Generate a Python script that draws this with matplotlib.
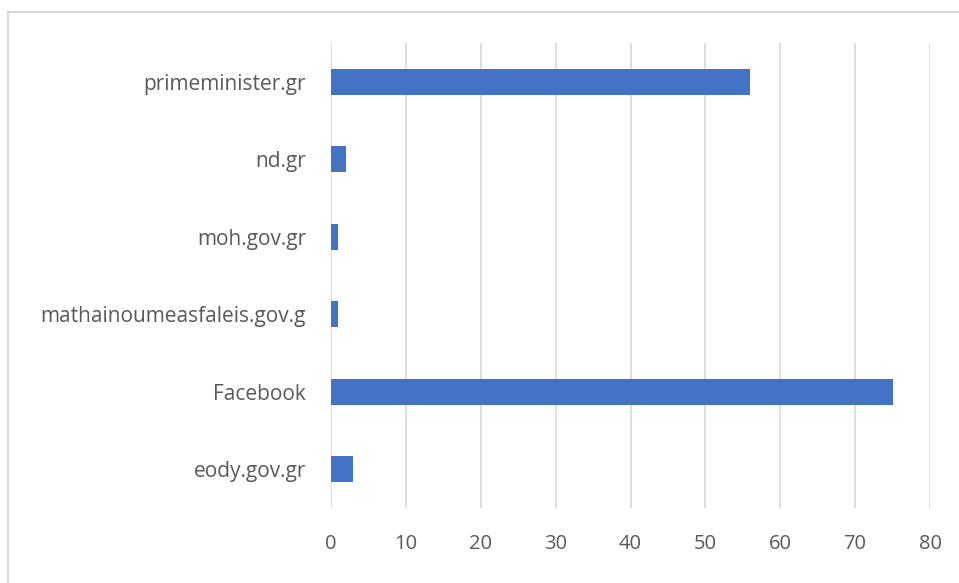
import matplotlib.pyplot as plt
from matplotlib.lines import Line2D

sites = ['eody.gov.gr', 'Facebook', 'mathainoumeasfaleis.gov.g', 'moh.gov.gr', 'nd.gr', 'primeminister.gr']
counts = [3, 75, 1, 1, 2, 56]
xticks = [0, 10, 20, 30, 40, 50, 60, 70, 80]

plt.rcParams['font.family'] = ['Open Sans', 'DejaVu Sans']

fig = plt.figure(figsize=(9.59, 5.83), dpi=100)
ax = fig.add_axes([331/959, 1 - 508/583, 599/959, 465/583])

ax.barh(range(len(sites)), counts, height=0.34, color='#4472C4', zorder=3)

ax.set_xlim(0, 80)
ax.set_ylim(-0.5, len(sites) - 0.5)
ax.set_xticks(xticks)
ax.set_yticks(range(len(sites)))
ax.set_yticklabels(sites)
ax.grid(axis='x', color='#d9d9d9', linewidth=1.2, zorder=0)
for s in ax.spines.values():
    s.set_visible(False)
ax.tick_params(axis='both', length=0, labelcolor='#595959')
ax.tick_params(axis='y', pad=18, labelsize=15)
ax.tick_params(axis='x', pad=19, labelsize=14.5)

# light frame around the chart
fig.add_artist(Line2D([8/959, 8/959], [0, 1 - 12/583], color='#d9d9d9', lw=1.5))
fig.add_artist(Line2D([8/959, 1], [1 - 12/583, 1 - 12/583], color='#d9d9d9', lw=1.5))

fig.savefig('out.png', dpi=100)
